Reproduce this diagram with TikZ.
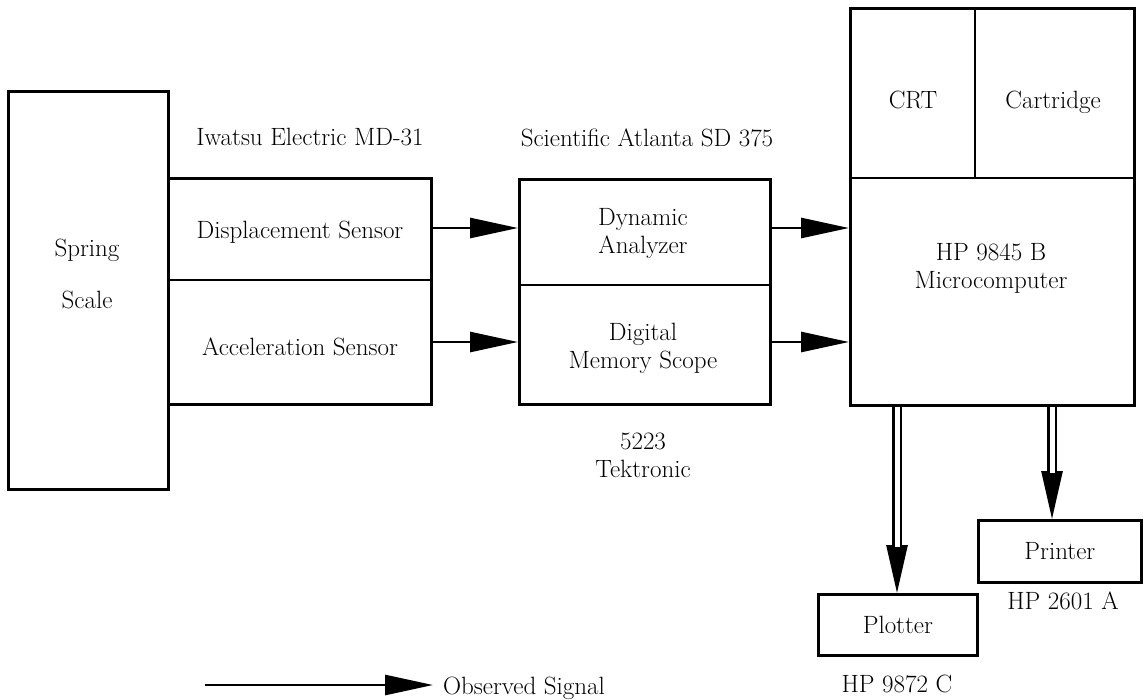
\documentclass[tikz,border=0pt]{standalone}
\usetikzlibrary{arrows.meta}
\begin{document}
\begin{tikzpicture}[x=1pt,y=-1pt,
  txt/.style={font=\fontsize{25}{28}\selectfont, align=center, inner sep=0pt},
  box/.style={draw, line width=2.7pt, inner sep=0pt, anchor=north west},
  ln/.style={line width=2.7pt},
  sig/.style={line width=2.7pt, -{Triangle[length=48pt,width=20pt]}},
  dbl/.style={line width=2.7pt, double=white, double distance=5pt, shorten >=46pt},
  dbltip/.style={line width=2.7pt, -{Triangle[length=48pt,width=21pt]}}]
\useasboundingbox (0,0) rectangle (1145,699);

% boxes
\node[box, minimum width=160, minimum height=398] (spring) at (7,90) {};
\node[box, minimum width=263, minimum height=226] (iw) at (167,177) {};
\node[box, minimum width=251, minimum height=225] (sa) at (518,178) {};
\node[box, minimum width=284, minimum height=397] (hp) at (849,7) {};
\node[box, minimum width=159, minimum height=61] (plotter) at (817,593) {};
\node[box, minimum width=163, minimum height=62] (printer) at (977,519) {};

% dividers
\coordinate (iwd) at (0,280);
\coordinate (sad) at (0,285);
\coordinate (hpd) at (0,178);
\coordinate (hpv) at (975,0);
\draw[ln] (iw.west |- iwd) -- (iw.east |- iwd);
\draw[ln] (sa.west |- sad) -- (sa.east |- sad);
\draw[ln] (hp.west |- hpd) -- (hp.east |- hpd);
\draw[ln] (hp.north -| hpv) -- (hpd -| hpv);

% texts
\node[txt] (t1) at (87,250) {Spring};
\node[txt] (t2) at (87,300) {Scale};
\node[txt] (iwl) at (310,137) {Iwatsu Electric MD-31};
\node[txt] (disp) at (300,232) {Displacement Sensor};
\node[txt] (acc) at (300,347) {Acceleration Sensor};
\node[txt] (sal) at (647,138) {Scientific Atlanta SD 375};
\node[txt] (dyn) at (643,233) {Dynamic\\Analyzer};
\node[txt] (dig) at (643,348) {Digital\\Memory Scope};
\node[txt] (tek) at (643,455) {5223\\Tektronic};
\node[txt] (crt) at (913,100) {CRT};
\node[txt] (cart) at (1053,102) {Cartridge};
\node[txt] (mc) at (991,268) {HP 9845 B\\Microcomputer};
\node[txt] at (plotter.center) {Plotter};
\node[txt] at (printer.center) {Printer};
\node[txt] (hpp) at (897,684) {HP 9872 C};
\node[txt] (hpr) at (1063,601) {HP 2601 A};

% signal arrows
\coordinate (a1) at (0,228);
\coordinate (a2) at (0,342);
\draw[sig] (iw.east |- a1) -- (sa.west |- a1);
\draw[sig] (iw.east |- a2) -- (sa.west |- a2);
\draw[sig] (sa.east |- a1) -- (hp.west |- a1);
\draw[sig] (sa.east |- a2) -- (hp.west |- a2);

% double arrows
\coordinate (px) at (897,0);
\coordinate (rx) at (1052,0);
\draw[dbltip] (hp.south -| px) -- (plotter.north -| px);
\draw[dbl] (hp.south -| px) -- (plotter.north -| px);
\draw[dbltip] (hp.south -| rx) -- (printer.north -| rx);
\draw[dbl] (hp.south -| rx) -- (printer.north -| rx);

% legend
\coordinate (l1) at (205,685);
\coordinate (l2) at (433,685);
\node[txt, anchor=west] (obs) at (443,688) {Observed Signal};
\draw[sig] (l1) -- (l2);
\end{tikzpicture}
\end{document}
